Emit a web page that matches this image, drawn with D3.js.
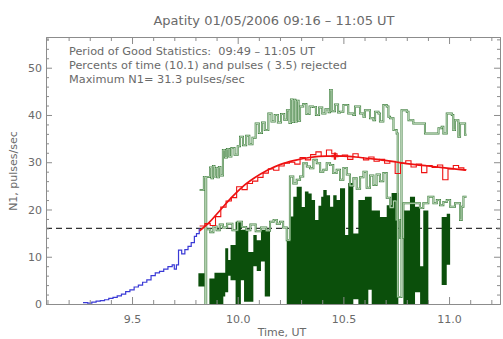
<!DOCTYPE html>
<html>
<head>
<meta charset="utf-8">
<script src="https://cdn.jsdelivr.net/npm/d3@7"></script>
<style>
  body { margin: 0; background: #fff; }
  text { font-family: "DejaVu Sans", sans-serif; fill: #6a6a6a; }
</style>
</head>
<body>
<div id="chart"></div>
<script>
// Texts
const title = "Apatity 01/05/2006 09:16 \u2013 11:05 UT";
const infoLines = [
    "Period of Good Statistics:  09:49 \u2013 11:05 UT",
    "Percents of time (10.1) and pulses ( 3.5) rejected",
    "Maximum N1= 31.3 pulses/sec"
];
const xLabel = "Time, UT";
const yLabel = "N1, pulses/sec";
const xTicks = [9.5, 10.0, 10.5, 11.0];
const yTicks = [0, 10, 20, 30, 40, 50];
const threshold = 16;
const maxPoint = [10.46, 31.3];

// Series, [time UT (h), pulses/sec]
const blueSeries = [
    [9.268, 0.3], [9.29, 0.2], [9.31, 0.4], [9.33, 0.6], [9.35, 0.7], [9.37, 0.9],
    [9.39, 1.2], [9.41, 1.4], [9.43, 1.7], [9.45, 2.1], [9.47, 2.6], [9.49, 3.0],
    [9.51, 3.6], [9.53, 4.0], [9.55, 4.6], [9.57, 5.1], [9.59, 6.0], [9.61, 6.6],
    [9.63, 6.9], [9.65, 7.4], [9.67, 7.9], [9.69, 8.3], [9.70, 7.4], [9.71, 8.3],
    [9.72, 11.4], [9.735, 10.6], [9.75, 11.5], [9.765, 12.2], [9.78, 13.0],
    [9.795, 14.3], [9.805, 14.9], [9.818, 16.0]
];

const redSeries = [
    [9.820, 16.5], [9.845, 17.0], [9.870, 16.6], [9.895, 18.5], [9.920, 20.5],
    [9.945, 21.8], [9.970, 22.5], [9.995, 24.8], [10.020, 24.2], [10.045, 25.5],
    [10.070, 26.0], [10.095, 26.8], [10.120, 27.7], [10.145, 28.6], [10.170, 28.3],
    [10.195, 29.2], [10.220, 29.8], [10.245, 30.0], [10.270, 29.6], [10.295, 31.0],
    [10.320, 30.5], [10.345, 31.6], [10.370, 32.2], [10.395, 31.2], [10.420, 32.6],
    [10.445, 31.8], [10.470, 31.3], [10.495, 31.5], [10.520, 30.6], [10.545, 31.8],
    [10.570, 31.0], [10.595, 30.5], [10.620, 31.1], [10.645, 30.2], [10.670, 30.6],
    [10.695, 29.8], [10.720, 30.2], [10.745, 27.6], [10.770, 29.8], [10.795, 30.3],
    [10.820, 29.0], [10.845, 29.6], [10.870, 27.8], [10.895, 29.3], [10.920, 28.9],
    [10.945, 29.4], [10.970, 26.3], [10.995, 28.6], [11.020, 29.3], [11.045, 28.8],
    [11.070, 28.4], [11.083, 28.4]
];

const redFit = [
    [9.82, 15.5], [9.87, 17.5], [9.92, 20.0], [9.97, 22.5], [10.02, 24.7],
    [10.08, 26.7], [10.14, 28.3], [10.20, 29.5], [10.27, 30.4], [10.34, 31.0],
    [10.42, 31.3], [10.50, 31.3], [10.58, 31.0], [10.66, 30.6], [10.74, 30.1],
    [10.82, 29.6], [10.90, 29.2], [10.98, 28.8], [11.08, 28.3]
];

const upperGreen = [
    [9.820, 24.1], [9.840, 26.9], [9.847, 0], [9.851, 26.9], [9.869, 28.9], [9.876, 26.6],
    [9.883, 29.2], [9.890, 27.0], [9.897, 28.8], [9.904, 26.8], [9.911, 29.0], [9.918, 27.2],
    [9.930, 32.6], [9.940, 31.0], [9.949, 32.8], [9.960, 31.2], [9.970, 33.0], [9.985, 31.6],
    [10.000, 33.4], [10.011, 35.4], [10.025, 33.6], [10.040, 35.6], [10.055, 33.8], [10.070, 35.2],
    [10.085, 38.2], [10.100, 36.2], [10.115, 38.4], [10.128, 36.8], [10.145, 40.3], [10.160, 38.6],
    [10.175, 40.0], [10.190, 38.4], [10.205, 40.2], [10.220, 39.0], [10.233, 41.0], [10.245, 38.3],
    [10.252, 43.3], [10.259, 38.5], [10.266, 43.2], [10.273, 38.6], [10.280, 43.0], [10.288, 38.8],
    [10.295, 41.8], [10.310, 42.3], [10.325, 40.2], [10.340, 41.8], [10.356, 41.7], [10.370, 40.0],
    [10.385, 41.6], [10.400, 40.3], [10.415, 41.2], [10.430, 40.6], [10.437, 45.3], [10.445, 40.8],
    [10.460, 42.2], [10.475, 40.5], [10.484, 40.7], [10.500, 42.1], [10.523, 40.3], [10.547, 40.0],
    [10.555, 41.8], [10.579, 40.3], [10.595, 39.6], [10.602, 41.0], [10.626, 39.3], [10.642, 38.9],
    [10.650, 40.7], [10.666, 40.3], [10.673, 38.6], [10.689, 42.1], [10.705, 41.8], [10.713, 39.6],
    [10.721, 39.3], [10.737, 36.8], [10.752, 36.1], [10.757, 1.5], [10.775, 41.0], [10.800, 40.7],
    [10.808, 38.9], [10.831, 38.2], [10.886, 36.1], [10.950, 37.2], [10.965, 37.5], [10.973, 36.1],
    [10.989, 40.3], [11.013, 40.0], [11.020, 36.8], [11.028, 38.9], [11.044, 35.4], [11.052, 38.2],
    [11.076, 35.8], [11.083, 35.8]
];

const lowerGreen = [
    [9.850, 15.8], [9.870, 15.2], [9.885, 16.4], [9.900, 15.6], [9.915, 16.8], [9.930, 16.2],
    [9.950, 17.0], [9.975, 15.6], [10.000, 17.4], [10.020, 16.3], [10.040, 15.6], [10.060, 16.8],
    [10.085, 15.4], [10.110, 16.2], [10.135, 15.5], [10.153, 17.4], [10.170, 17.8], [10.185, 17.0],
    [10.200, 17.4], [10.215, 16.2], [10.232, 13.5], [10.247, 27.0], [10.263, 25.5], [10.279, 26.3],
    [10.295, 27.0], [10.310, 29.8], [10.327, 29.1], [10.342, 28.7], [10.358, 30.5], [10.374, 29.8],
    [10.390, 28.0], [10.405, 28.4], [10.421, 29.8], [10.437, 29.4], [10.452, 27.7], [10.468, 28.4],
    [10.484, 26.3], [10.500, 28.8], [10.516, 27.4], [10.531, 25.0], [10.547, 26.6], [10.563, 24.4],
    [10.579, 26.8], [10.595, 28.0], [10.610, 24.6], [10.626, 27.2], [10.642, 25.2], [10.657, 27.4],
    [10.673, 26.0], [10.689, 27.7], [10.705, 22.5], [10.721, 20.4], [10.737, 21.8], [10.750, 17.8],
    [10.768, 14.0], [10.784, 21.3], [10.847, 21.3], [10.862, 20.3], [10.878, 21.3], [10.902, 22.7],
    [10.926, 21.3], [10.942, 22.0], [10.957, 20.9], [10.973, 21.6], [10.989, 22.0], [11.005, 20.6],
    [11.028, 21.3], [11.052, 17.8], [11.060, 20.6], [11.068, 22.7], [11.083, 22.7]
];

// dark band: [time, low, high]
const darkBand = [
    [9.814, 3.7, 6.5], [9.845, 0, 0], [9.866, 0, 5.4], [9.890, 0, 6.6], [9.932, 1.6, 6.6],
    [9.941, 2.5, 11.8], [9.955, 6.0, 9.3], [9.966, 5.0, 12.5], [9.990, 0, 17.4], [10.015, 5.0, 15.7],
    [10.030, 0.5, 15.7], [10.050, 0.5, 11.0], [10.074, 8.0, 14.6], [10.090, 7.0, 13.5],
    [10.110, 9.0, 15.7], [10.128, 1.6, 15.7], [10.153, 0, 0], [10.232, 0, 13.5], [10.247, 0, 18.5],
    [10.263, 0, 22.7], [10.279, 0, 24.8], [10.303, 0, 20.5], [10.318, 0, 23.8], [10.335, 0, 23.4],
    [10.350, 0, 22.0], [10.366, 0, 17.8], [10.382, 0, 20.8], [10.395, 0, 22.7], [10.405, 0, 24.1],
    [10.421, 0, 23.0], [10.437, 0, 20.6], [10.452, 0, 23.0], [10.468, 0, 22.0], [10.484, 0, 24.5],
    [10.508, 0, 14.6], [10.523, 0, 25.6], [10.547, 1.0, 14.9], [10.571, 0, 22.0], [10.602, 0, 22.7],
    [10.618, 3.0, 22.7], [10.634, 0, 19.8], [10.673, 0, 18.4], [10.705, 0, 20.9], [10.728, 0, 23.5],
    [10.760, 0, 0], [10.784, 0, 19.8], [10.815, 0, 22.7], [10.839, 2.5, 20.6], [10.863, 0, 8.0],
    [10.878, 0, 19.8], [10.902, 0, 0], [10.965, 4.0, 18.4], [10.989, 8.3, 19.1], [11.005, 0, 0]
];

// Layout
const width = 503;
const height = 339;
const plot = { left: 46, right: 500, top: 37, bottom: 304 };
const axisColor = "#8c8c8c";

const svg = d3.select("#chart")
    .append("svg")
    .attr("width", width)
    .attr("height", height);

const x = d3.scaleLinear().domain([9.093, 11.241]).range([plot.left, plot.right]);
const y = d3.scaleLinear().domain([0, 56.5]).range([plot.bottom, plot.top]);

const stepLine = d3.line()
    .x(d => x(d[0]))
    .y(d => y(d[1]))
    .curve(d3.curveStepAfter);

const band = d3.area()
    .x(d => x(d[0]))
    .y0(d => y(d[1]))
    .y1(d => y(d[2]))
    .curve(d3.curveStepAfter);

const gChart = svg.append("g").attr("class", "chart");

// threshold line
gChart.append("line")
    .attr("x1", plot.left).attr("x2", plot.right)
    .attr("y1", y(threshold)).attr("y2", y(threshold))
    .attr("stroke", "#333")
    .attr("stroke-width", 1.4)
    .attr("stroke-dasharray", "6,4");

gChart.append("path")
    .datum(darkBand)
    .attr("fill", "#0b4f0b")
    .attr("d", band);

// green lines drawn as outlined strokes
[lowerGreen, upperGreen].forEach(series => {
    gChart.append("path")
        .datum(series)
        .attr("fill", "none")
        .attr("stroke", "#3f7f3f")
        .attr("stroke-width", 2.0)
        .attr("d", stepLine);
    gChart.append("path")
        .datum(series)
        .attr("fill", "none")
        .attr("stroke", "#e4f2e0")
        .attr("stroke-width", 0.7)
        .attr("d", stepLine);
});

gChart.append("path")
    .datum(blueSeries)
    .attr("fill", "none")
    .attr("stroke", "#3a3ad6")
    .attr("stroke-width", 1.2)
    .attr("d", stepLine);

gChart.append("path")
    .datum(redSeries)
    .attr("fill", "none")
    .attr("stroke", "#ee1111")
    .attr("stroke-width", 1.1)
    .attr("d", stepLine);

gChart.append("path")
    .datum(redFit)
    .attr("fill", "none")
    .attr("stroke", "#ee1111")
    .attr("stroke-width", 1.7)
    .attr("d", d3.line().x(d => x(d[0])).y(d => y(d[1])).curve(d3.curveMonotoneX));

gChart.append("path")
    .attr("transform", `translate(${x(maxPoint[0])},${y(maxPoint[1])})`)
    .attr("d", d3.symbol(d3.symbolCross, 28)())
    .attr("fill", "#ee1111");

// Axes
const minorX = d3.range(9.1, 11.25, 0.1).filter(v => !xTicks.some(t => Math.abs(t - v) < 1e-6));
const minorY = d3.range(0, 57, 2).filter(v => v % 10 !== 0);

function styleAxis(g) {
    g.selectAll("path, line").attr("stroke", axisColor);
    g.selectAll("text")
        .style("font-family", '"DejaVu Sans", sans-serif')
        .style("font-size", "11px")
        .attr("fill", "#6a6a6a");
}

const gX = svg.append("g").attr("transform", `translate(0,${plot.bottom})`);
gX.call(d3.axisBottom(x).tickValues(xTicks).tickFormat(d3.format(".1f"))
        .tickSize(-7).tickSizeOuter(0).tickPadding(11))
  .call(styleAxis);
svg.append("g").attr("transform", `translate(0,${plot.bottom})`)
    .call(d3.axisBottom(x).tickValues(minorX).tickFormat("").tickSize(-4).tickSizeOuter(0))
    .call(styleAxis);

svg.append("g").attr("transform", `translate(0,${plot.top})`)
    .call(d3.axisTop(x).tickValues(xTicks).tickFormat("").tickSize(-7).tickSizeOuter(0))
    .call(styleAxis);
svg.append("g").attr("transform", `translate(0,${plot.top})`)
    .call(d3.axisTop(x).tickValues(minorX).tickFormat("").tickSize(-4).tickSizeOuter(0))
    .call(styleAxis);

svg.append("g").attr("transform", `translate(${plot.left},0)`)
    .call(d3.axisLeft(y).tickValues(yTicks).tickSize(-6).tickSizeOuter(0).tickPadding(4))
    .call(styleAxis);
svg.append("g").attr("transform", `translate(${plot.left},0)`)
    .call(d3.axisLeft(y).tickValues(minorY).tickFormat("").tickSize(-3).tickSizeOuter(0))
    .call(styleAxis);

svg.append("g").attr("transform", `translate(${plot.right},0)`)
    .call(d3.axisRight(y).tickValues(yTicks).tickFormat("").tickSize(-6).tickSizeOuter(0))
    .call(styleAxis);
svg.append("g").attr("transform", `translate(${plot.right},0)`)
    .call(d3.axisRight(y).tickValues(minorY).tickFormat("").tickSize(-3).tickSizeOuter(0))
    .call(styleAxis);

// Titles and labels
svg.append("text")
    .attr("x", 274).attr("y", 25)
    .attr("text-anchor", "middle")
    .style("font-size", "13px")
    .text(title);

svg.append("g")
    .selectAll("text")
    .data(infoLines)
    .join("text")
    .attr("x", 69)
    .attr("y", (d, i) => 55 + i * 14)
    .style("font-size", "11.3px")
    .style("white-space", "pre")
    .attr("xml:space", "preserve")
    .text(d => d);

svg.append("text")
    .attr("x", (plot.left + plot.right) / 2 + 9).attr("y", 336)
    .attr("text-anchor", "middle")
    .style("font-size", "11px")
    .text(xLabel);

svg.append("text")
    .attr("transform", `translate(17,${171}) rotate(-90)`)
    .attr("text-anchor", "middle")
    .style("font-size", "11px")
    .text(yLabel);
</script>
</body>
</html>
